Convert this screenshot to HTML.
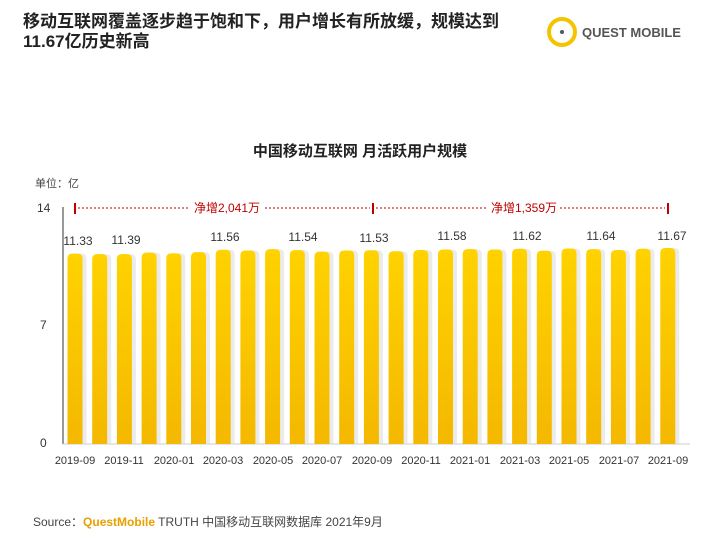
<!DOCTYPE html>
<html><head><meta charset="utf-8"><style>
body{margin:0;width:720px;height:540px;background:#fff;overflow:hidden;font-family:"Liberation Sans","Noto Sans CJK SC",sans-serif;}
</style></head><body>
<svg width="720" height="540" xmlns="http://www.w3.org/2000/svg" style="position:absolute;left:0;top:0">
<defs><linearGradient id="g" x1="0" y1="0" x2="0" y2="1"><stop offset="0" stop-color="#ffd200"/><stop offset="1" stop-color="#f4b800"/></linearGradient></defs>
<text x="23" y="27" font-size="17" font-weight="bold" fill="#222" font-family="Liberation Sans,Noto Sans CJK SC,sans-serif">移动互联网覆盖逐步趋于饱和下，用户增长有所放缓，规模达到</text>
<text x="23" y="47" font-size="17" font-weight="bold" fill="#222" font-family="Liberation Sans,Noto Sans CJK SC,sans-serif">11.67亿历史新高</text>
<circle cx="562" cy="32" r="13" fill="none" stroke="#f5c400" stroke-width="4"/>
<circle cx="562" cy="32" r="2" fill="#555"/>
<text x="582" y="37" font-size="13" font-weight="bold" fill="#555" font-family="Liberation Sans,sans-serif">QUEST MOBILE</text>
<text x="360" y="156" font-size="15" font-weight="bold" fill="#222" text-anchor="middle" font-family="Liberation Sans,Noto Sans CJK SC,sans-serif">中国移动互联网 月活跃用户规模</text>
<text x="35" y="187" font-size="11" fill="#444" font-family="Liberation Sans,Noto Sans CJK SC,sans-serif">单位：亿</text>
<g font-size="12" fill="#333" font-family="Liberation Sans,sans-serif">
<text x="37" y="212">14</text><text x="40" y="329">7</text><text x="40" y="447">0</text></g>
<line x1="63" y1="207" x2="63" y2="444" stroke="#333"/>
<line x1="63" y1="444" x2="690" y2="444" stroke="#ccc"/>
<g stroke="#c00000" stroke-width="1">
<line x1="75" y1="203" x2="75" y2="214" stroke-width="2"/>
<line x1="373" y1="203" x2="373" y2="214" stroke-width="2"/>
<line x1="668" y1="203" x2="668" y2="214" stroke-width="2"/>
<line x1="78" y1="208" x2="190" y2="208" stroke-dasharray="2,2"/>
<line x1="265" y1="208" x2="370" y2="208" stroke-dasharray="2,2"/>
<line x1="376" y1="208" x2="487" y2="208" stroke-dasharray="2,2"/>
<line x1="560" y1="208" x2="665" y2="208" stroke-dasharray="2,2"/>
</g>
<g font-size="12" fill="#c00000" font-family="Liberation Sans,Noto Sans CJK SC,sans-serif">
<text x="194" y="212">净增2,041万</text><text x="491" y="212">净增1,359万</text></g>
<g id="bars"></g>
<g font-size="11" fill="#333" text-anchor="middle" font-family="Liberation Sans,sans-serif">
<text x="75" y="464">2019-09</text><text x="124" y="464">2019-11</text><text x="174" y="464">2020-01</text><text x="223" y="464">2020-03</text><text x="273" y="464">2020-05</text><text x="322" y="464">2020-07</text><text x="372" y="464">2020-09</text><text x="421" y="464">2020-11</text><text x="470" y="464">2021-01</text><text x="520" y="464">2021-03</text><text x="569" y="464">2021-05</text><text x="619" y="464">2021-07</text><text x="668" y="464">2021-09</text>
</g>
<g font-size="12" fill="#333" text-anchor="middle" font-family="Liberation Sans,sans-serif">
<text x="78" y="245">11.33</text><text x="126" y="244">11.39</text><text x="225" y="241">11.56</text><text x="303" y="241">11.54</text><text x="374" y="242">11.53</text><text x="452" y="240">11.58</text><text x="527" y="240">11.62</text><text x="601" y="240">11.64</text><text x="672" y="240">11.67</text>
</g>
<text x="33" y="526" font-size="12" fill="#444" font-family="Liberation Sans,Noto Sans CJK SC,sans-serif">Source：<tspan fill="#e8a000" font-weight="bold">QuestMobile</tspan> TRUTH 中国移动互联网数据库 2021年9月</text>
</svg>
<script>
var v=[11.33,11.3,11.3,11.39,11.35,11.42,11.56,11.52,11.6,11.54,11.45,11.52,11.53,11.47,11.55,11.58,11.6,11.58,11.62,11.5,11.64,11.6,11.55,11.62,11.67];
var s='';for(var i=0;i<v.length;i++){var x=75+i*24.7-7.5,h=v[i]*16.8,y=444-h;
s+='<path d="M'+(x+2)+' 444 V'+(y+5)+' q0 -5 5 -5 h7 q5 0 5 5 V444z" fill="#ddd" opacity="0.6"/>';
s+='<path d="M'+x+' 444 V'+(y+5)+' q0 -5 5 -5 h5 q5 0 5 5 V444z" fill="url(#g)"/>';}
document.getElementById('bars').innerHTML=s;
</script>
</body></html>
